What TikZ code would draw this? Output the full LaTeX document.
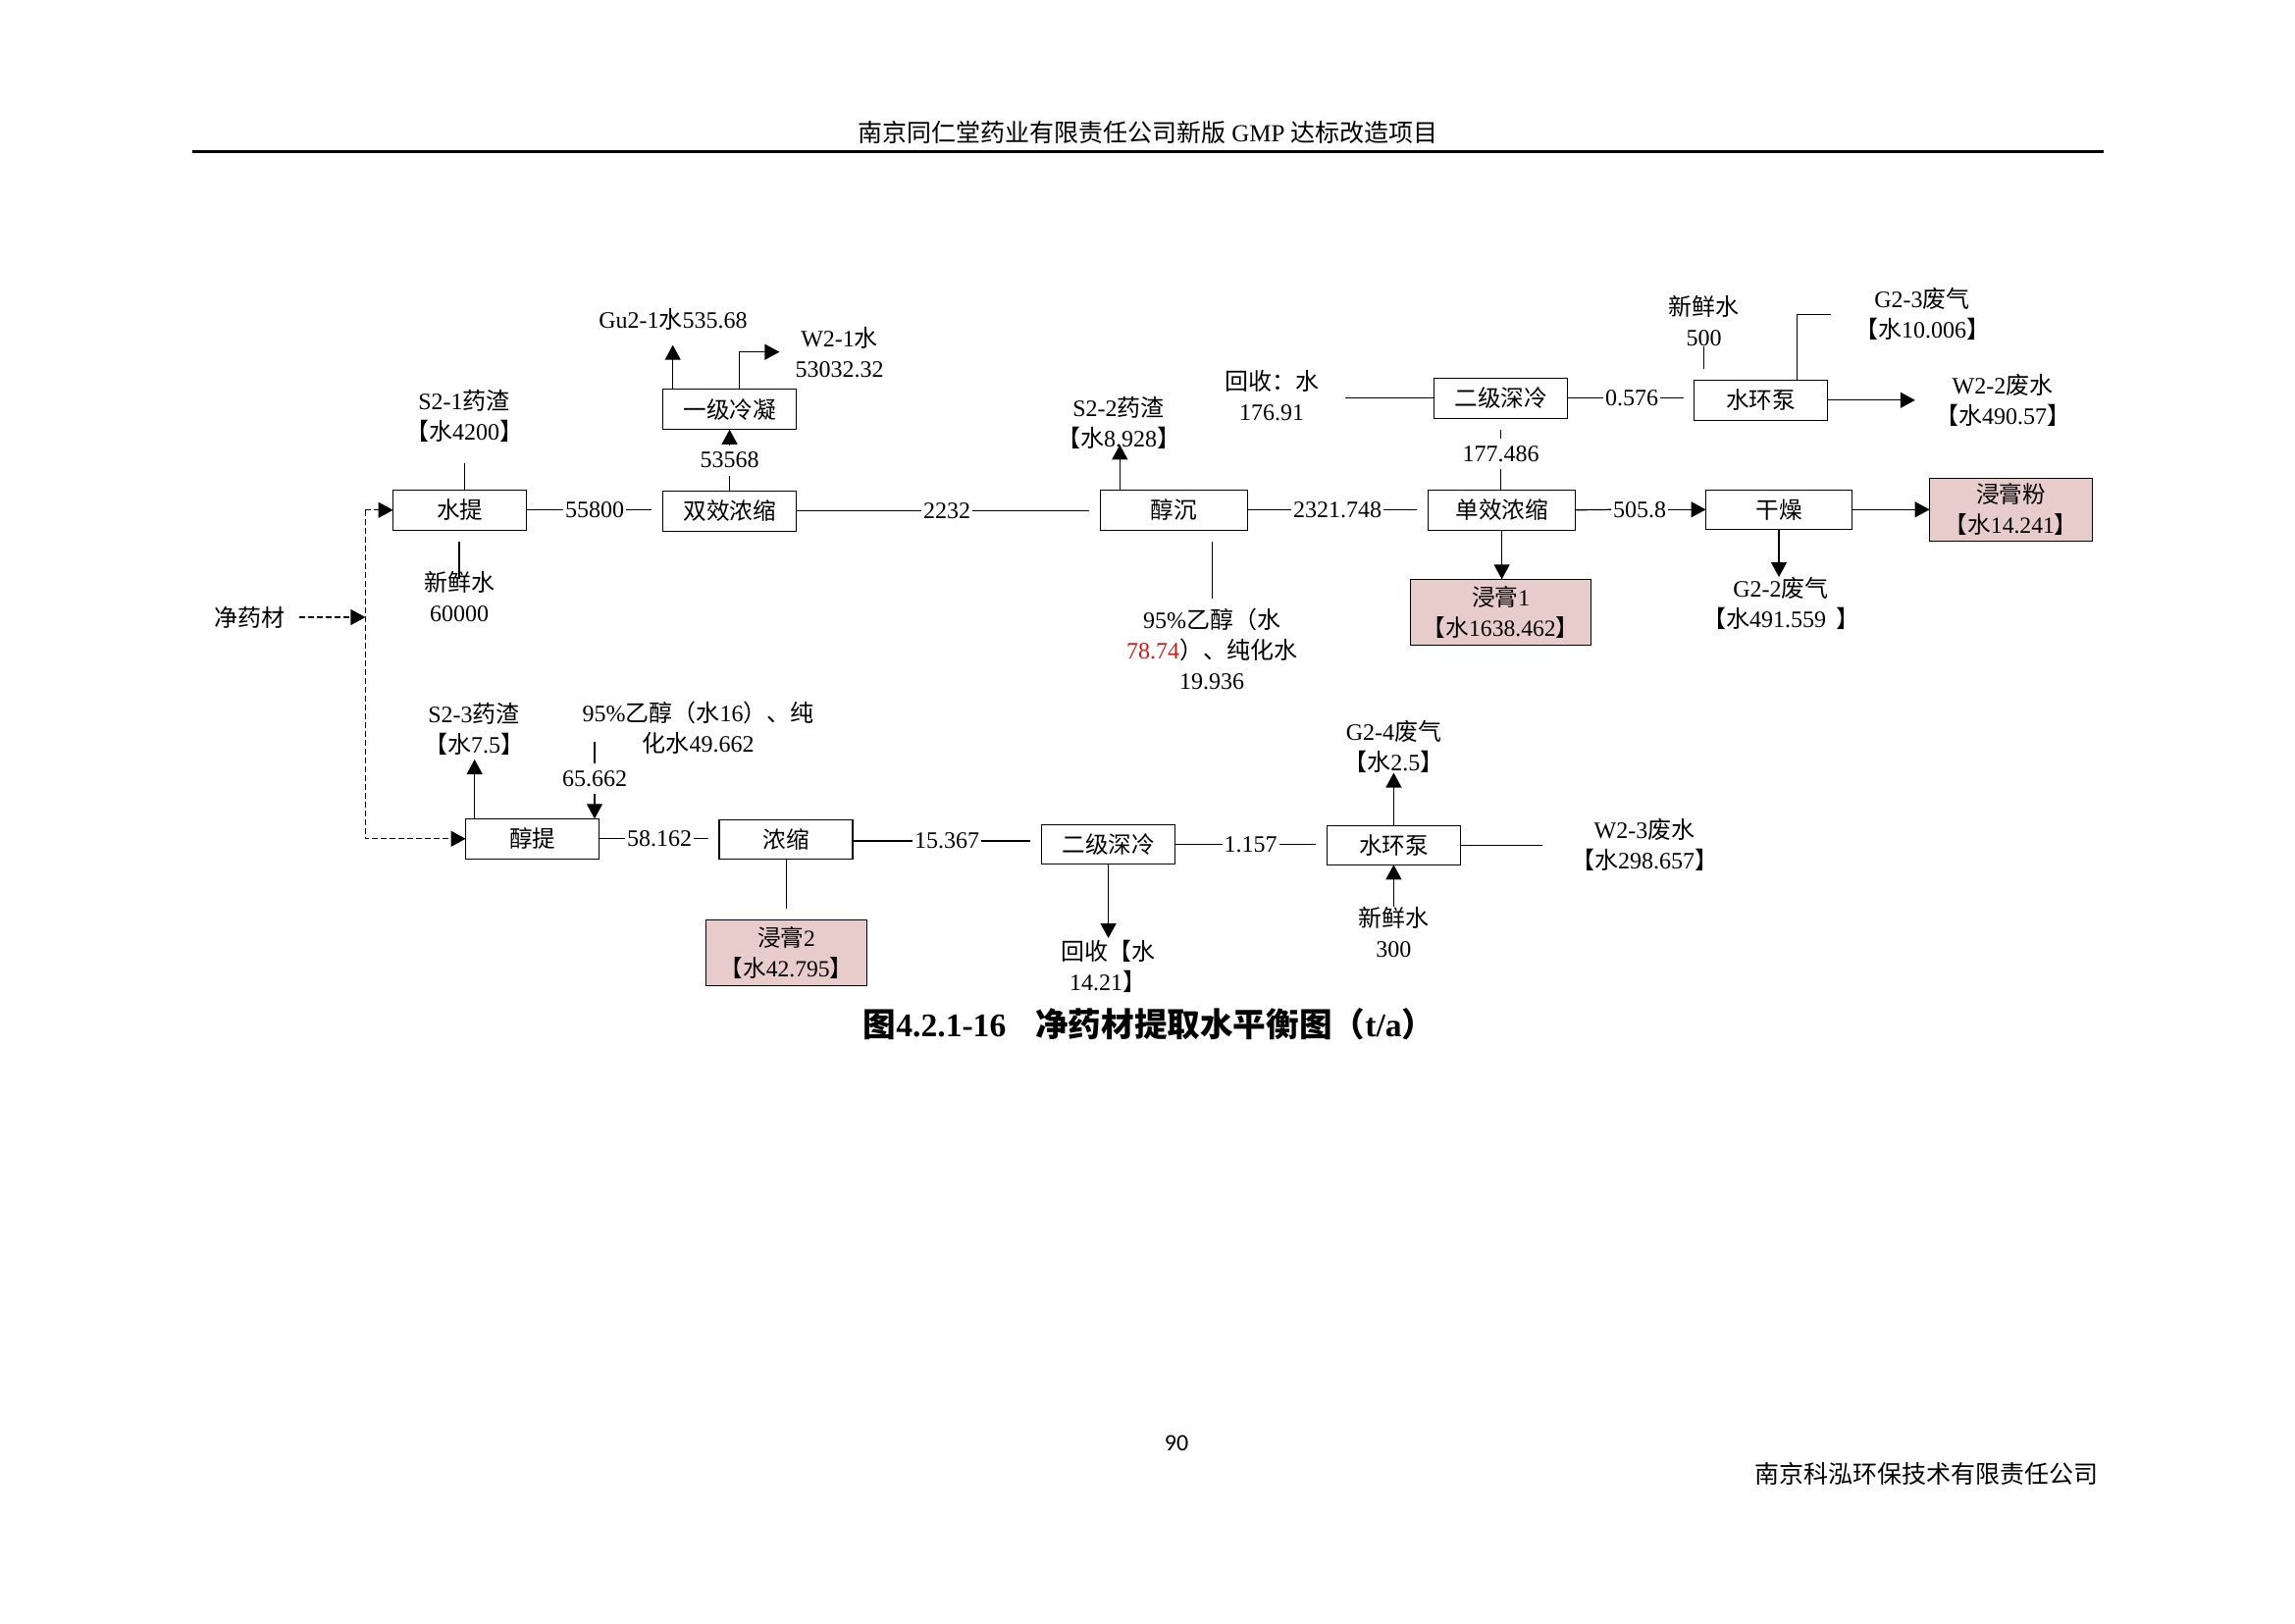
\documentclass[tikz,border=0pt]{standalone}
\usepackage{fontspec}
\setmainfont{Liberation Serif}
\newfontfamily\cjk{Noto Sans CJK SC}
\newfontfamily\pagenum{Carlito}
\newcommand{\zh}[1]{{\cjk #1}}
\usetikzlibrary{arrows.meta}
\colorlet{box edge}{black}
\definecolor{box area}{HTML}{E8CCCC}
\definecolor{num red}{HTML}{D81818}
\tikzset{box/.style={draw=box edge, line width=0.6pt, fill=white, inner sep=0pt, outer sep=0pt,
		minimum width=68pt, minimum height=20.5pt, font=\fontsize{11.8}{15.5}\selectfont},
	pbox/.style={box, fill=box area, align=center},
	lab/.style={inner sep=0pt, align=center, font=\fontsize{12}{15.5}\selectfont},
	num/.style={inner xsep=0.8pt, inner ysep=3.5pt, font=\fontsize{12}{15.5}\selectfont},
	line/.style={draw=black, line width=0.6pt},
	flow/.style={line, -{Triangle[length=7.5pt,width=8pt]}},
	dflow/.style={flow, dash pattern=on 3pt off 1.5pt}}

\begin{document}
\begin{tikzpicture}[x=0.5pt, y=-0.5pt]
\useasboundingbox (0,0) rectangle (2339,1654);

% page furniture
\node[inner sep=0pt, font=\fontsize{12.5}{14}\selectfont] (head) at (1170,135) {\zh{南京同仁堂药业有限责任公司新版} GMP \zh{达标改造项目}};
\draw[line width=1.5pt] (196,154.3) -- (2144,154.3);
\node[inner sep=0pt, font=\pagenum\fontsize{12}{14}\selectfont] (page) at (1199,1471) {90};
\node[inner sep=0pt, anchor=east, font=\fontsize{12.5}{14}\selectfont] (firm) at (2139,1501.5) {\zh{南京科泓环保技术有限责任公司}};
\node[inner sep=0pt, font=\fontsize{16.8}{20}\selectfont\bfseries] (title) at (1171,1044) {\zh{图}4.2.1-16\hspace{15pt}\zh{净药材提取水平衡图（}t/a\zh{）}};

% upper row
\node[box] (stq) at (468.6,519.8) {\zh{水提}};
\node[box] (sxnc) at (743.6,520.8) {\zh{双效浓缩}};
\node[box] (yjln) at (743.6,417.3) {\zh{一级冷凝}};
\node[box, minimum width=75pt] (cc) at (1196.4,519.8) {\zh{醇沉}};
\node[box, minimum width=75pt] (dxnc) at (1530.6,519.8) {\zh{单效浓缩}};
\node[box] (ejsl) at (1529.6,405.8) {\zh{二级深冷}};
\node[box] (shb) at (1794.4,407.8) {\zh{水环泵}};
\node[box, minimum width=74.5pt, minimum height=20pt] (gz) at (1813,519.3) {\zh{干燥}};
\node[pbox, minimum width=91.8pt, minimum height=33.5pt] (jg1) at (1529.6,623.8) {\zh{浸膏}1\\\zh{【水}1638.462\zh{】}};
\node[pbox, minimum width=83pt, minimum height=32pt] (jgf) at (2049.6,519.3) {\zh{浸膏粉}\\\zh{【水}14.241\zh{】}};

% lower row
\node[box] (ct) at (542.6,854.8) {\zh{醇提}};
\node[box, minimum height=20pt] (nc) at (801,855.3) {\zh{浓缩}};
\node[box, minimum height=20pt] (ejsl2) at (1129.6,860.3) {\zh{二级深冷}};
\node[box, minimum height=20pt] (shb2) at (1420.4,861.3) {\zh{水环泵}};
\node[pbox, minimum width=82pt, minimum height=33.5pt] (jg2) at (801.5,970.8) {\zh{浸膏}2\\\zh{【水}42.795\zh{】}};

% side texts
\node[lab] (jyc) at (254.6,629) {\zh{净药材}};
\node[lab] (s21) at (473,423.5) {S2-1\zh{药渣}\\\zh{【水}4200\zh{】}};
\node[lab] (xs60) at (468,607.5) {\zh{新鲜水}\\60000};
\node[lab] (gu21) at (686,325) {Gu2-1\zh{水}535.68};
\node[lab] (w21) at (855.6,359) {W2-1\zh{水}\\53032.32};
\node[lab] (s22) at (1140,430.5) {S2-2\zh{药渣}\\\zh{【水}8.928\zh{】}};
\node[lab] (yc95) at (1235,661.5) {95\%\zh{乙醇（水}\\\textcolor{num red}{78.74}\zh{）、纯化水}\\19.936};
\node[lab] (hs) at (1296,403) {\zh{回收：水}\\176.91};
\node[lab] (xs500) at (1736.7,327) {\zh{新鲜水}\\500};
\node[lab] (g23) at (1959,319.5) {G2-3\zh{废气}\\\zh{【水}10.006\zh{】}};
\node[lab] (w22) at (2041,407.5) {W2-2\zh{废水}\\\zh{【水}490.57\zh{】}};
\node[lab] (g22) at (1815,614.5) {G2-2\zh{废气}\\\zh{【水}491.559\hspace{5pt}\zh{】}};
\node[lab] (s23) at (483,743) {S2-3\zh{药渣}\\\zh{【水}7.5\zh{】}};
\node[lab] (yc16) at (711.7,742) {95\%\zh{乙醇（水}16\zh{）、纯}\\\zh{化水}49.662};
\node[lab] (hs2) at (1129,985) {\zh{回收【水}\\14.21\zh{】}};
\node[lab] (g24) at (1420.4,760.5) {G2-4\zh{废气}\\\zh{【水}2.5\zh{】}};
\node[lab] (xs300) at (1420.4,950) {\zh{新鲜水}\\300};
\node[lab] (w23) at (1676,861) {W2-3\zh{废水}\\\zh{【水}298.657\zh{】}};

% numbers on the lines
\node[num] (n55800) at (606,519.8) {55800};
\node[num] (n2232) at (965,520.8) {2232};
\node[num] (n2321) at (1363,519.8) {2321.748};
\node[num] (n505) at (1671,519.3) {505.8};
\node[num] (n53568) at (743.6,469) {53568};
\node[num] (n177) at (1529.6,462.3) {177.486};
\node[num] (n0576) at (1663,405.8) {0.576};
\node[num] (n65) at (606,793.3) {65.662};
\node[num] (n58) at (672,854.8) {58.162};
\node[num] (n15) at (965,857) {15.367};
\node[num] (n1157) at (1274.5,860.3) {1.157};

% free ends
\coordinate (e21) at (473.5,472);
\coordinate (e60) at (467.9,552);
\coordinate (e60b) at (467.9,590);
\coordinate (e55800) at (664,519.8);
\coordinate (e2232) at (1109.7,520.8);
\coordinate (e2321) at (1443.9,519.8);
\coordinate (e177) at (1529.6,438.3);
\coordinate (ehs) at (1371,405.8);
\coordinate (e0576) at (1715.8,405.8);
\coordinate (e500) at (1736.7,375.7);
\coordinate (eg23) at (1865.8,320.3);
\coordinate (cg23) at (1831.4,387.3);
\coordinate (ew22) at (1951.8,407.8);
\coordinate (es22) at (1141.3,453.3);
\coordinate (eyc) at (1235.7,610);
\coordinate (eyc0) at (1235.7,552);
\coordinate (eg22) at (1813,588);
\coordinate (ejyc) at (304.6,629);
\coordinate (ebus) at (372.4,629);
\coordinate (etop) at (372.4,519.8);
\coordinate (ebot) at (372.4,854.8);
\coordinate (es23) at (483.7,774);
\coordinate (e65) at (606,756);
\coordinate (e58) at (722,854.8);
\coordinate (e15) at (1049.5,857);
\coordinate (ejg2) at (801.5,925.7);
\coordinate (ehs2) at (1129.6,956);
\coordinate (e1157) at (1340.8,860.3);
\coordinate (ew23) at (1572.4,861.3);
\coordinate (eg21) at (685.7,351.7);
\coordinate (ew21) at (794.4,358.7);
\coordinate (cw21) at (753.6,397.3);

% connectors, upper row
\draw[line] (stq.north -| e21) -- (e21);
\draw[line] (e60) -- (e60b);
\draw[line] (stq.east) -- (n55800.west);
\draw[line] (n55800.east) -- (e55800);
\draw[line] (sxnc.north) -- (n53568.south);
\draw[flow] (n53568.north) -- (yjln.south);
\draw[flow] (yjln.north -| eg21) -- (eg21);
\draw[flow] (cw21) |- (ew21);
\draw[line] (sxnc.east) -- (n2232.west);
\draw[line] (n2232.east) -- (e2232);
\draw[flow] (cc.north -| es22) -- (es22);
\draw[line] (eyc0) -- (eyc);
\draw[line] (cc.east) -- (n2321.west);
\draw[line] (n2321.east) -- (e2321);
\draw[line] (dxnc.north -| n177) -- (n177.south);
\draw[line] (n177.north) -- (e177);
\draw[line] (ehs) -- (ejsl.west);
\draw[line] (ejsl.east) -- (n0576.west);
\draw[line] (n0576.east) -- (e0576);
\draw[line] (xs500.south) -- (e500);
\draw[line] (cg23) |- (eg23);
\draw[flow] (shb.east) -- (ew22);
\draw[flow] (dxnc.south) -- (jg1.north -| dxnc.south);
\draw[line] (dxnc.east) -- (n505.west);
\draw[flow] (n505.east) -- (gz.west);
\draw[flow] (gz.south) -- (eg22);
\draw[flow] (gz.east) -- (jgf.west);

% connectors, lower row
\draw[dflow] (ejyc) -- (ebus);
\draw[dflow] (etop) -- (stq.west);
\draw[dflow] (etop) -- (ebot) -- (ct.west);
\draw[flow] (ct.north -| es23) -- (es23);
\draw[line] (e65) -- (n65.north);
\draw[flow] (n65.south) -- (ct.north -| n65);
\draw[line] (ct.east) -- (n58.west);
\draw[line] (n58.east) -- (e58);
\draw[line] (nc.east |- n15.west) -- (n15.west);
\draw[line] (n15.east) -- (e15);
\draw[line] (nc.south -| ejg2) -- (ejg2);
\draw[flow] (ejsl2.south) -- (ehs2);
\draw[line] (ejsl2.east) -- (n1157.west);
\draw[line] (n1157.east) -- (e1157);
\draw[flow] (shb2.north) -- (g24.south);
\draw[flow] (xs300.north) -- (shb2.south);
\draw[line] (shb2.east) -- (ew23);

\end{tikzpicture}
\end{document}
